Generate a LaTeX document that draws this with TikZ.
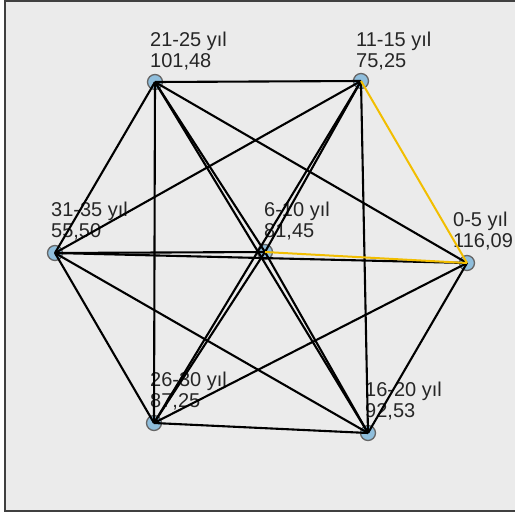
\documentclass[tikz,border=0pt]{standalone}
\usepackage{fontspec}
\setmainfont{Liberation Sans}
\definecolor{panelbg}{HTML}{EBEBEB}
\definecolor{dotblue}{HTML}{8FBEDC}
\definecolor{tieyellow}{HTML}{F2BE00}
\tikzset{
  yeardot/.style={circle,draw=black!60,line width=1.3pt,fill=dotblue,minimum size=15pt,inner sep=0pt},
  yearlabel/.style={anchor=south west,align=left,inner sep=0pt,text=black!85,font=\fontsize{20}{21}\selectfont},
  tie/.style={line width=2.1pt,black},
  hitie/.style={line width=2pt,tieyellow}
}
\begin{document}
\begin{tikzpicture}[x=1pt,y=-1pt]
\useasboundingbox (0,0) rectangle (515,515);
\fill[white] (0,0) rectangle (515,515);
\clip (0,0) rectangle (515,515);
\draw[draw=black!75,fill=panelbg,line width=2pt] (5,1) rectangle (530,511);
% etiketler
\node[yearlabel] (l2125) at (150,70) {21-25 yıl\\101,48};
\node[yearlabel] (l1115) at (356,70) {11-15 yıl\\75,25};
\node[yearlabel] (l3135) at (51,240) {31-35 yıl\\55,50};
\node[yearlabel] (l610) at (264,240) {6-10 yıl\\81,45};
\node[yearlabel] (l05) at (453,250) {0-5 yıl\\116,09};
\node[yearlabel] (l2630) at (150,410) {26-30 yıl\\87,25};
\node[yearlabel] (l1620) at (365,420) {16-20 yıl\\92,53};
% noktalar
\foreach \name/\x/\y in {n2125/155/82,n1115/361/81,n3135/55/253,n610/265/252,
                         n05/467/263,n2630/154/423,n1620/368/433}
  \node[yeardot] (\name) at (\x,\y) {};
% bağlantılar
\foreach \a/\b in {n2125/n1115,n2125/n3135,n2125/n610,n2125/n05,n2125/n2630,n2125/n1620,
                   n1115/n3135,n1115/n610,n1115/n2630,n1115/n1620,
                   n3135/n610,n3135/n05,n3135/n2630,n3135/n1620,
                   n610/n2630,n610/n1620,n05/n2630,n05/n1620,n2630/n1620}
  \draw[tie] (\a.center) -- (\b.center);
\draw[hitie] (n1115.center) -- (n05.center);
\draw[hitie] (n610.center) -- (n05.center);
\end{tikzpicture}
\end{document}
